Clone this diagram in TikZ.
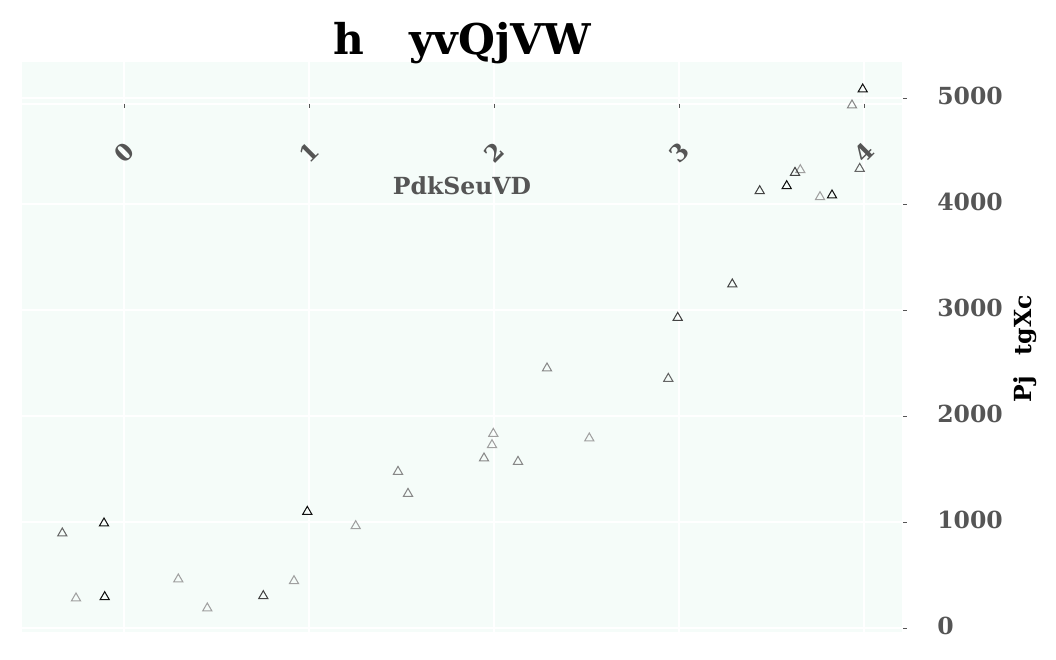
\documentclass[tikz,border=0pt]{standalone}
\usepackage{fontspec}
\setmainfont{DejaVu Serif}
\usetikzlibrary{shapes.geometric}
\definecolor{plotbg}{RGB}{245,252,249}
\definecolor{labgray}{RGB}{85,85,85}
\definecolor{mka}{RGB}{17,17,17}
\definecolor{mkb}{RGB}{68,68,68}
\definecolor{mkc}{RGB}{102,102,102}
\definecolor{mkd}{RGB}{136,136,136}
\definecolor{mke}{RGB}{160,160,160}

\begin{document}
\begin{tikzpicture}[x=0.254mm,y=-0.254mm,
  tri/.style={regular polygon,regular polygon sides=3,draw,line width=0.75pt,minimum size=2.7mm,inner sep=0pt,outer sep=0pt},
  ticklab/.style={text=labgray,font=\fontsize{17}{20}\selectfont\bfseries,inner sep=0pt},
  gridline/.style={white,line width=0.75pt},
  tickmark/.style={labgray,line width=0.6pt}]

\useasboundingbox (0,0) rectangle (1056,660);
\fill [plotbg] (22,62) rectangle (902,632);

\draw [gridline] (124,62) -- (124,632);
\draw [gridline] (309,62) -- (309,632);
\draw [gridline] (494,62) -- (494,632);
\draw [gridline] (679,62) -- (679,632);
\draw [gridline] (864,62) -- (864,632);

\draw [gridline] (22,98) -- (902,98);
\draw [gridline] (22,204) -- (902,204);
\draw [gridline] (22,310) -- (902,310);
\draw [gridline] (22,416) -- (902,416);
\draw [gridline] (22,522) -- (902,522);
\draw [gridline] (22,628) -- (902,628);
\draw [white,line width=1pt] (22,104) -- (902,104);

% ticks
\draw [tickmark] (124,104) -- (124,108);
\draw [tickmark] (309,104) -- (309,108);
\draw [tickmark] (494,104) -- (494,108);
\draw [tickmark] (679,104) -- (679,108);
\draw [tickmark] (864,104) -- (864,108);

\draw [tickmark] (903,98) -- (907,98);
\draw [tickmark] (903,204) -- (907,204);
\draw [tickmark] (903,310) -- (907,310);
\draw [tickmark] (903,416) -- (907,416);
\draw [tickmark] (903,522) -- (907,522);
\draw [tickmark] (903,628) -- (907,628);

\node [ticklab,rotate=45] (xt0) at (124,152.5) {0};
\node [ticklab,rotate=45] (xt1) at (309,152.5) {1};
\node [ticklab,rotate=45] (xt2) at (494,152.5) {2};
\node [ticklab,rotate=45] (xt3) at (679,152.5) {3};
\node [ticklab,rotate=45] (xt4) at (864,152.5) {4};

\node [ticklab,anchor=west] (yt5) at (937,96) {5000};
\node [ticklab,anchor=west] (yt4) at (937,202) {4000};
\node [ticklab,anchor=west] (yt3) at (937,308) {3000};
\node [ticklab,anchor=west] (yt2) at (937,414) {2000};
\node [ticklab,anchor=west] (yt1) at (937,520) {1000};
\node [ticklab,anchor=west] (yt0) at (937,626) {0};

\node [ticklab] (xlab) at (462,186) {PdkSeuVD};
\node [ticklab,text=black,rotate=90,anchor=base] (ylab) at (1031,349) {Pj\hspace{0.9em}tgXc};
\node [font=\fontsize{30.6}{36}\selectfont\bfseries,inner sep=0pt,anchor=base] (title) at (462.5,55) {h\hspace{1.05em}yvQjVW};

% markers
\node [tri,draw=mkc] (m1) at (62.3,533.3) {};
\node [tri,draw=mke] (m2) at (76,598.3) {};
\node [tri,draw=mka] (m3) at (104,523.3) {};
\node [tri,draw=mka] (m4) at (104.7,597) {};
\node [tri,draw=mke] (m5) at (178.3,579.3) {};
\node [tri,draw=mke] (m6) at (207.3,608.3) {};
\node [tri,draw=mkb] (m7) at (263.3,596) {};
\node [tri,draw=mke] (m8) at (294,581) {};
\node [tri,draw=mka] (m9) at (307.3,511.7) {};
\node [tri,draw=mke] (m10) at (355.7,526) {};
\node [tri,draw=mkd] (m11) at (398,471.7) {};
\node [tri,draw=mkd] (m12) at (408,493.7) {};
\node [tri,draw=mkd] (m13) at (484,458.3) {};
\node [tri,draw=mke] (m14) at (492,445) {};
\node [tri,draw=mke] (m15) at (493.3,433.7) {};
\node [tri,draw=mkd] (m16) at (518,461.7) {};
\node [tri,draw=mkd] (m17) at (547,368.3) {};
\node [tri,draw=mke] (m18) at (589.3,438.3) {};
\node [tri,draw=mkc] (m19) at (668.3,378.7) {};
\node [tri,draw=mkb] (m20) at (677.7,317.7) {};
\node [tri,draw=mkb] (m21) at (732.3,284.3) {};
\node [tri,draw=mkb] (m22) at (759.7,191) {};
\node [tri,draw=mke] (m25) at (800.3,170) {};
\node [tri,draw=mka] (m23) at (786.7,186) {};
\node [tri,draw=mkb] (m24) at (795,172.7) {};
\node [tri,draw=mke] (m26) at (820,197) {};
\node [tri,draw=mka] (m27) at (832,195.3) {};
\node [tri,draw=mkd] (m28) at (852,105.3) {};
\node [tri,draw=mkc] (m29) at (859.7,168.7) {};
\node [tri,draw=mka] (m30) at (862.7,89.3) {};

\end{tikzpicture}
\end{document}
